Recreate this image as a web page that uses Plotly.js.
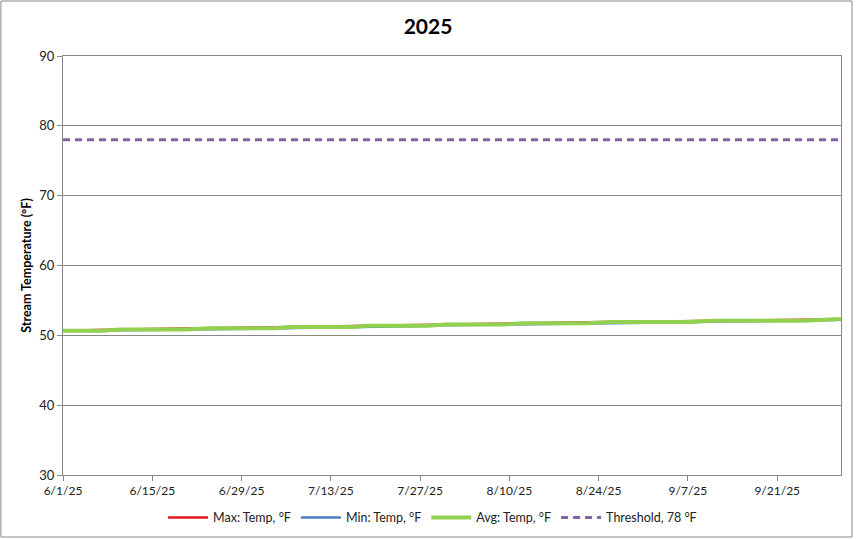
<!DOCTYPE html>
<html>
<head>
<meta charset="utf-8">
<script src="https://cdn.plot.ly/plotly-3.0.1.min.js"></script>
<style>html,body{margin:0;padding:0;background:#fff;}#chart{width:856px;height:539px;}</style>
</head>
<body>
<div id="chart"></div>
<script>
// Key dates where the readings change
var dates = ['2025-06-01','2025-06-07','2025-06-10','2025-06-20','2025-06-24','2025-07-04','2025-07-07',
  '2025-07-16','2025-07-19','2025-07-28','2025-07-31','2025-08-09','2025-08-12','2025-08-22','2025-08-26',
  '2025-09-07','2025-09-11','2025-09-25','2025-09-30','2025-10-01'];
var maxTemp = [50.65,50.8,50.83,50.98,51.0,51.15,51.18,51.33,51.36,51.5,51.55,51.7,51.73,51.87,51.9,52.05,52.1,52.25,52.3,52.3];
var minTemp = [50.65,50.62,50.72,50.8,50.88,50.97,51.06,51.15,51.24,51.33,51.43,51.52,51.61,51.7,51.78,51.87,51.97,52.07,52.18,52.3];
var avgTemp = [50.65,50.65,50.83,50.83,51.0,51.0,51.18,51.18,51.36,51.36,51.55,51.55,51.73,51.73,51.9,51.9,52.1,52.1,52.3,52.3];
var thresholdDates = ['2025-06-01','2025-10-01'];
var thresholdVals = [78, 78];
var xTickStart = '2025-06-01';
var xRange = ['2025-06-01','2025-10-01'];
var yRange = [30, 90];

var traces = [
  {x: dates, y: maxTemp, name: 'Max: Temp, °F', mode: 'lines', line: {color: '#E3171D', width: 2.5}},
  {x: dates, y: minTemp, name: 'Min: Temp, °F', mode: 'lines', line: {color: '#4A7EBB', width: 2.5}},
  {x: dates, y: avgTemp, name: 'Avg: Temp, °F', mode: 'lines', line: {color: '#92D050', width: 4}},
  {x: thresholdDates, y: thresholdVals, name: 'Threshold, 78 °F', mode: 'lines', line: {color: '#8064A2', width: 3, dash: '7px,5px'}}
];

var layout = {
  width: 856, height: 539,
  margin: {l: 63, r: 15, t: 56, b: 64},
  paper_bgcolor: '#fff', plot_bgcolor: '#fff',
  font: {family: 'Lato, "Open Sans", sans-serif', size: 12, color: '#222'},
  title: {text: '<b>2025</b>', x: 0.5, xanchor: 'center', y: 0.95, yanchor: 'middle', font: {size: 21, color: '#000', family: 'Lato, sans-serif'}},
  xaxis: {
    type: 'date', range: xRange, tick0: xTickStart, dtick: 14 * 86400000,
    tickformat: '%-m/%-d/%y', showgrid: false, zeroline: false,
    showline: true, linecolor: '#888', linewidth: 1, mirror: true,
    ticks: 'outside', ticklen: 5, tickcolor: '#888',
    tickfont: {size: 12, color: '#222'}
  },
  yaxis: {
    range: yRange, dtick: 10, showgrid: true, gridcolor: '#888', gridwidth: 1,
    zeroline: false, showline: true, linecolor: '#888', linewidth: 1, mirror: true,
    ticks: 'outside', ticklen: 5, tickcolor: '#888',
    tickfont: {size: 13, color: '#222'},
    title: {text: '<b>Stream Temperature (°F)</b>', font: {size: 12.5, color: '#000'}, standoff: 4}
  },
  legend: {orientation: 'h', x: 0.475, xanchor: 'center', yref: 'container', y: 0.039, yanchor: 'middle',
    font: {size: 12.5, color: '#222'}, itemwidth: 40, traceorder: 'normal'},
  showlegend: true,
  shapes: [{type: 'rect', xref: 'paper', yref: 'paper',
    x0: -62/777, x1: 1 + 11/777, y0: -62/419, y1: 1 + 55/419,
    line: {color: '#888', width: 1}, fillcolor: 'rgba(0,0,0,0)'}]
};

Plotly.newPlot('chart', traces, layout, {displayModeBar: false, staticPlot: true});
</script>
</body>
</html>
